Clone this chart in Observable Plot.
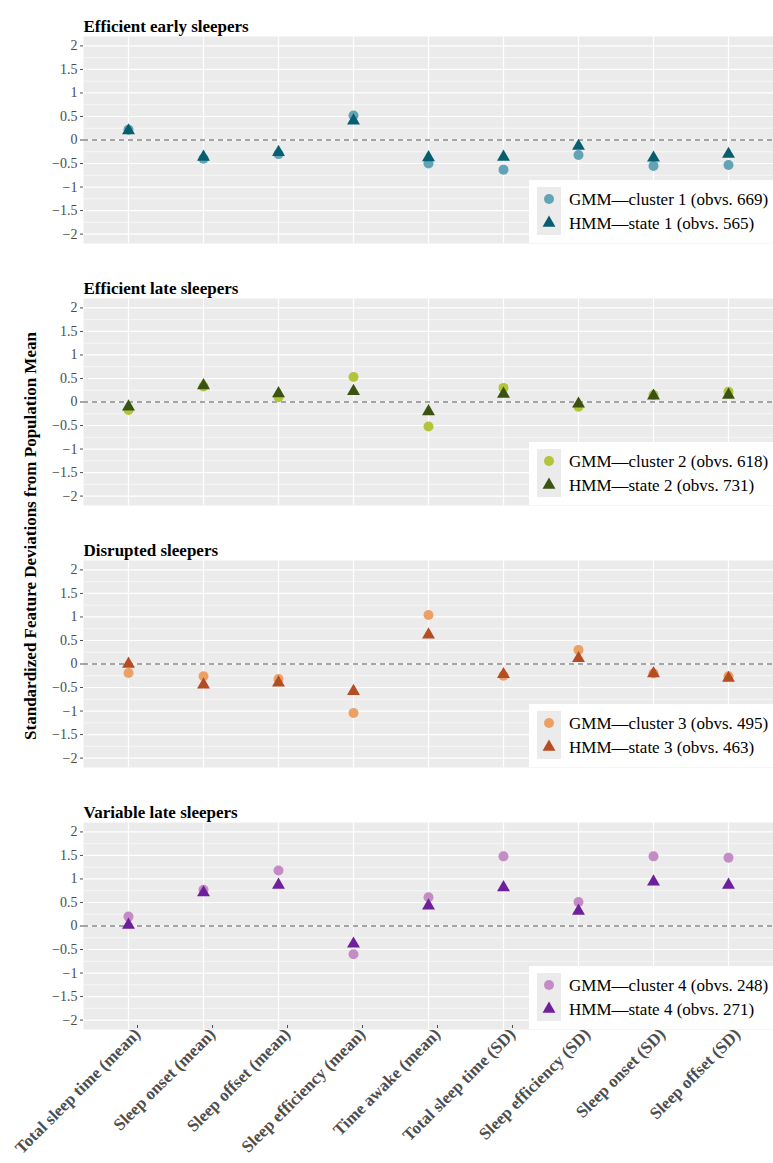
<!DOCTYPE html>
<html><head><meta charset="utf-8">
<script src="https://cdn.jsdelivr.net/npm/d3@7"></script>
<script src="https://cdn.jsdelivr.net/npm/@observablehq/plot@0.6"></script>
<style>
body{margin:0;background:#fff;}
#chart{position:relative;width:773px;height:1163px;font-family:"Liberation Serif","Times New Roman",serif;}
#chart svg{display:block;}
#ylab{position:absolute;left:31px;top:536px;transform:translate(-50%,-50%) rotate(-90deg);white-space:nowrap;font-weight:bold;font-size:17px;color:#000;}
</style></head><body><div id="chart"><div id="ylab">Standardized Feature Deviations from Population Mean</div></div>
<script>
const features = ["Total sleep time (mean)", "Sleep onset (mean)", "Sleep offset (mean)", "Sleep efficiency (mean)", "Time awake (mean)", "Total sleep time (SD)", "Sleep efficiency (SD)", "Sleep onset (SD)", "Sleep offset (SD)"];
const panelTitles = ["Efficient early sleepers", "Efficient late sleepers", "Disrupted sleepers", "Variable late sleepers"];
const gmmLabels = ["GMM—cluster 1 (obvs. 669)", "GMM—cluster 2 (obvs. 618)", "GMM—cluster 3 (obvs. 495)", "GMM—cluster 4 (obvs. 248)"];
const hmmLabels = ["HMM—state 1 (obvs. 565)", "HMM—state 2 (obvs. 731)", "HMM—state 3 (obvs. 463)", "HMM—state 4 (obvs. 271)"];
const gmmColors = ["#62A3B5", "#B1C43A", "#ECA064", "#C58BC5"];
const hmmColors = ["#075E70", "#3A5311", "#B54C22", "#6E1F9A"];

const gmm1 = [0.22, -0.40, -0.30, 0.52, -0.50, -0.63, -0.32, -0.55, -0.53];
const hmm1 = [0.20, -0.36, -0.26, 0.41, -0.37, -0.36, -0.13, -0.38, -0.30];
const gmm2 = [-0.17, 0.33, 0.10, 0.53, -0.52, 0.30, -0.10, 0.15, 0.22];
const hmm2 = [-0.10, 0.35, 0.18, 0.23, -0.20, 0.17, -0.04, 0.13, 0.15];
const gmm3 = [-0.19, -0.26, -0.32, -1.04, 1.04, -0.25, 0.30, -0.20, -0.26];
const hmm3 = [0.00, -0.44, -0.40, -0.58, 0.62, -0.22, 0.12, -0.20, -0.30];
const gmm4 = [0.20, 0.77, 1.18, -0.60, 0.61, 1.48, 0.51, 1.48, 1.45];
const hmm4 = [0.02, 0.71, 0.87, -0.38, 0.43, 0.82, 0.32, 0.94, 0.87];

const yTicks = [-2, -1.5, -1, -0.5, 0, 0.5, 1, 1.5, 2];
const yMinor = [-1.75, -1.25, -0.75, -0.25, 0.25, 0.75, 1.25, 1.75];

const gmmAll = [gmm1, gmm2, gmm3, gmm4];
const hmmAll = [hmm1, hmm2, hmm3, hmm4];
const fmt = d => (d < 0 ? "\u2212" : "") + Math.abs(d);
const FONT = "'Liberation Serif', 'Times New Roman', serif";

const chart = document.getElementById("chart");
const PT = 36, PH = 207, LW = 773;

for (let i = 0; i < 4; i++) {
  const last = i === 3;
  const height = last ? 376 : 262;
  const gmm = gmmAll[i].map((v, j) => ({feature: features[j], value: v}));
  const hmm = hmmAll[i].map((v, j) => ({feature: features[j], value: v}));
  const marks = [
    Plot.frame({fill: "#EBEBEB"}),
    Plot.gridY(yMinor, {stroke: "white", strokeOpacity: 1, strokeWidth: 0.6}),
    Plot.gridY(yTicks, {stroke: "white", strokeOpacity: 1, strokeWidth: 1.2}),
    Plot.gridX(features, {stroke: "white", strokeOpacity: 1, strokeWidth: 1.2}),
    Plot.axisY(yTicks, {tickSize: 3, tickPadding: 3, fontSize: 14, color: "#4D4D4D", tickFormat: fmt, label: null}),
    Plot.ruleY([0], {stroke: "#555", strokeDasharray: "5,4", strokeWidth: 1.1}),
    Plot.dot(gmm, {x: "feature", y: "value", r: 5, fill: gmmColors[i], symbol: "circle"}),
    Plot.dot(hmm, {x: "feature", y: "value", r: 4.8, fill: hmmColors[i], symbol: "triangle"}),
    Plot.text([panelTitles[i]], {text: d => d, frameAnchor: "top-left", textAnchor: "start", dy: -17, fontWeight: "bold", fontSize: 17, fill: "black"})
  ];
  if (last) marks.push(Plot.axisX({tickRotate: -45, fontWeight: "bold", fontSize: 17, color: "#4D4D4D", tickSize: 3, tickPadding: 3, dx: 9, dy: -4, label: null}));
  const svg = Plot.plot({
    width: LW, height,
    marginLeft: 83, marginRight: 0, marginTop: PT, marginBottom: height - PT - PH,
    style: {fontFamily: FONT, background: "transparent", overflow: "visible"},
    x: {type: "point", domain: features, padding: 0.6, axis: last ? undefined : null},
    y: {domain: [-2.2, 2.2], axis: null},
    marks
  });
  // legend (bottom-right inside panel)
  const g = d3.select(svg).append("g").attr("font-family", FONT).attr("font-size", 17).attr("text-anchor", "start");
  const lx = 529, lh = 63, ly = PT + PH - lh;
  g.append("rect").attr("x", lx).attr("y", ly).attr("width", LW - lx).attr("height", lh).attr("fill", "white");
  const labels = [gmmLabels[i], hmmLabels[i]];
  for (let k = 0; k < 2; k++) {
    const ky = ly + 7 + k * 24;
    g.append("rect").attr("x", 537).attr("y", ky).attr("width", 24).attr("height", 24).attr("fill", "#EBEBEB");
    const cx = 549, cy = ky + 12;
    if (k === 0) g.append("circle").attr("cx", cx).attr("cy", cy).attr("r", 5).attr("fill", gmmColors[i]);
    else g.append("path").attr("d", d3.symbol(d3.symbolTriangle, 4.8 * 4.8 * Math.PI)()).attr("transform", `translate(${cx},${cy})`).attr("fill", hmmColors[i]);
    g.append("text").attr("x", 569).attr("y", cy).attr("dy", "0.35em").attr("text-anchor", "start").attr("fill", "#000").text(labels[k]);
  }
  chart.appendChild(svg);
}
</script></body></html>
